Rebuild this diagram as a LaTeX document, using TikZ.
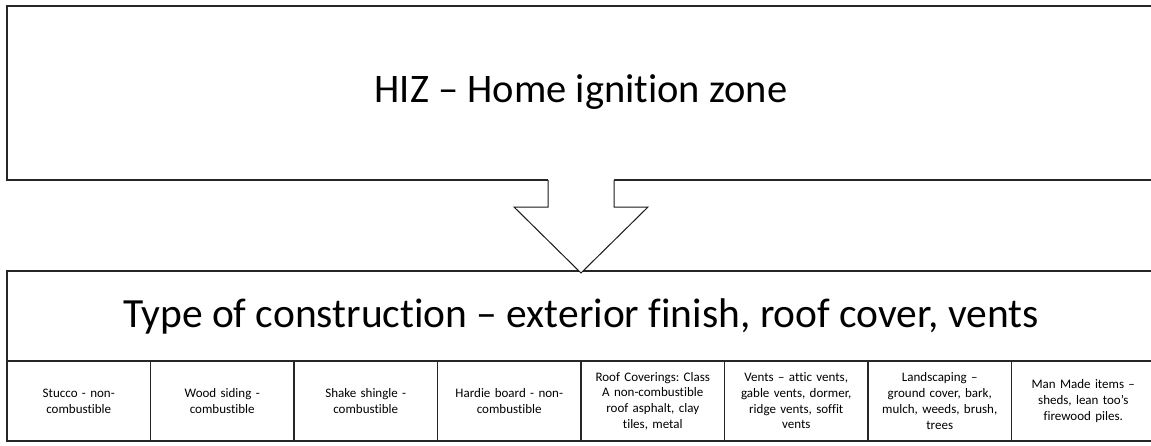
\documentclass[tikz,border=0pt]{standalone}
\usepackage{fontspec}
\setmainfont[Ligatures={NoCommon}]{Carlito}
\frenchspacing
\usetikzlibrary{calc}
\tikzset{
  boxframe/.style={draw=black!85, line width=1.2pt, rectangle, inner sep=0pt, outer sep=0pt, fill=white},
  bigtitle/.style={font=\fontsize{40.5}{48}\selectfont, inner sep=0pt},
  celltext/.style={draw=black!85, line width=1.2pt, rectangle, inner sep=0pt, outer sep=0pt, anchor=north west,
     minimum width=143.5pt, minimum height=80pt, align=center, text width=134pt,
     font=\fontsize{13}{15.7}\selectfont},
  blockarrow/.style={draw=black!90, line width=1pt, line join=miter}
}
\begin{document}
\begin{tikzpicture}[x=1pt,y=-1pt]
\useasboundingbox (0,0) rectangle (1151,445);
\clip (0,0) rectangle (1151,445);
\fill[white] (0,0) rectangle (1151,445);
% top box
\node[boxframe, anchor=north west, minimum width=1160pt, minimum height=174pt] (hiz) at (7,6) {};
\node[bigtitle] (hizt) at (581,92) {HIZ – Home ignition zone};
% bottom box
\node[boxframe, anchor=north west, minimum width=1160pt, minimum height=90pt] (toc) at (7,271) {};
\node[bigtitle, font=\fontsize{41.5}{48}\selectfont] (toct) at (581,316) {Type of construction – exterior finish, roof cover, vents};
% cells
\node[celltext] (c1) at (7,361) {Stucco - non-\\combustible};
\node[celltext] (c2) at (c1.north east) {Wood siding -\\combustible};
\node[celltext] (c3) at (c2.north east) {Shake shingle -\\combustible};
\node[celltext] (c4) at (c3.north east) {Hardie board - non-\\combustible};
\node[celltext] (c5) at (c4.north east) {Roof Coverings: Class\\A non-combustible\\roof asphalt, clay\\tiles, metal};
\node[celltext] (c6) at (c5.north east) {Vents – attic vents,\\gable vents, dormer,\\ridge vents, soffit\\vents};
\node[celltext] (c7) at (c6.north east) {Landscaping –\\ground cover, bark,\\mulch, weeds, brush,\\trees};
\node[celltext] (c8) at (c7.north east) {Man Made items –\\sheds, lean too’s\\firewood piles.};
% block arrow from hiz to toc
\coordinate (as) at (hizt.center |- hiz.south);
\coordinate (at) at ($(hizt.center |- toc.north)+(0,2)$);
\fill[white] ($(as)+(-33,-0.8)$) -- ($(as)+(-33,27)$) -- ($(as)+(-67,27)$) -- (at) -- ($(as)+(67,27)$) -- ($(as)+(33,27)$) -- ($(as)+(33,-0.8)$) -- cycle;
\draw[blockarrow] ($(as)+(-33,0)$) -- ($(as)+(-33,27)$) -- ($(as)+(-67,27)$) -- (at) -- ($(as)+(67,27)$) -- ($(as)+(33,27)$) -- ($(as)+(33,0)$);
\end{tikzpicture}
\end{document}
